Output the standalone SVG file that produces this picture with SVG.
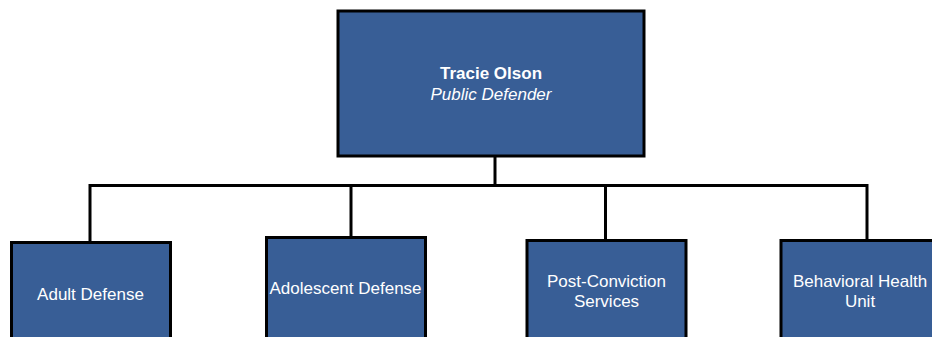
<svg xmlns="http://www.w3.org/2000/svg" width="932" height="337" viewBox="0 0 932 337">
  <style>
    .box { fill: #385e96; stroke: #000; stroke-width: 3; }
    .lbl { font-family: "Liberation Sans", Arial, sans-serif; font-size: 17px; fill: #fff; text-anchor: middle; }
    .name { font-weight: bold; }
    .title { font-style: italic; }
    .wire { fill: none; stroke: #000; stroke-width: 3; }
  </style>
  <rect width="932" height="337" fill="#fff"/>
  <g id="connectors">
    <path class="wire" d="M495 156 V185.5"/>
    <path class="wire" d="M90 242 V185.5 H867 V240"/>
    <path class="wire" d="M351 185.5 V237"/>
    <path class="wire" d="M605.5 185.5 V240"/>
  </g>
  <g id="public-defender">
    <rect class="box" x="338" y="11" width="306" height="145"/>
    <text class="lbl name" x="491" y="79">Tracie Olson</text>
    <text class="lbl title" x="491" y="100">Public Defender</text>
  </g>
  <g id="adult-defense">
    <rect class="box" x="11.5" y="242.5" width="159" height="110"/>
    <text class="lbl" x="90.5" y="300">Adult Defense</text>
  </g>
  <g id="adolescent-defense">
    <rect class="box" x="266.5" y="237.5" width="159" height="115"/>
    <text class="lbl" x="345.5" y="294">Adolescent Defense</text>
  </g>
  <g id="post-conviction">
    <rect class="box" x="527" y="240.5" width="159" height="112"/>
    <text class="lbl" x="606.5" y="287">Post-Conviction</text>
    <text class="lbl" x="606.5" y="307">Services</text>
  </g>
  <g id="behavioral-health">
    <rect class="box" x="781" y="240.5" width="159" height="112"/>
    <text class="lbl" x="860" y="287">Behavioral Health</text>
    <text class="lbl" x="860" y="307">Unit</text>
  </g>
</svg>
